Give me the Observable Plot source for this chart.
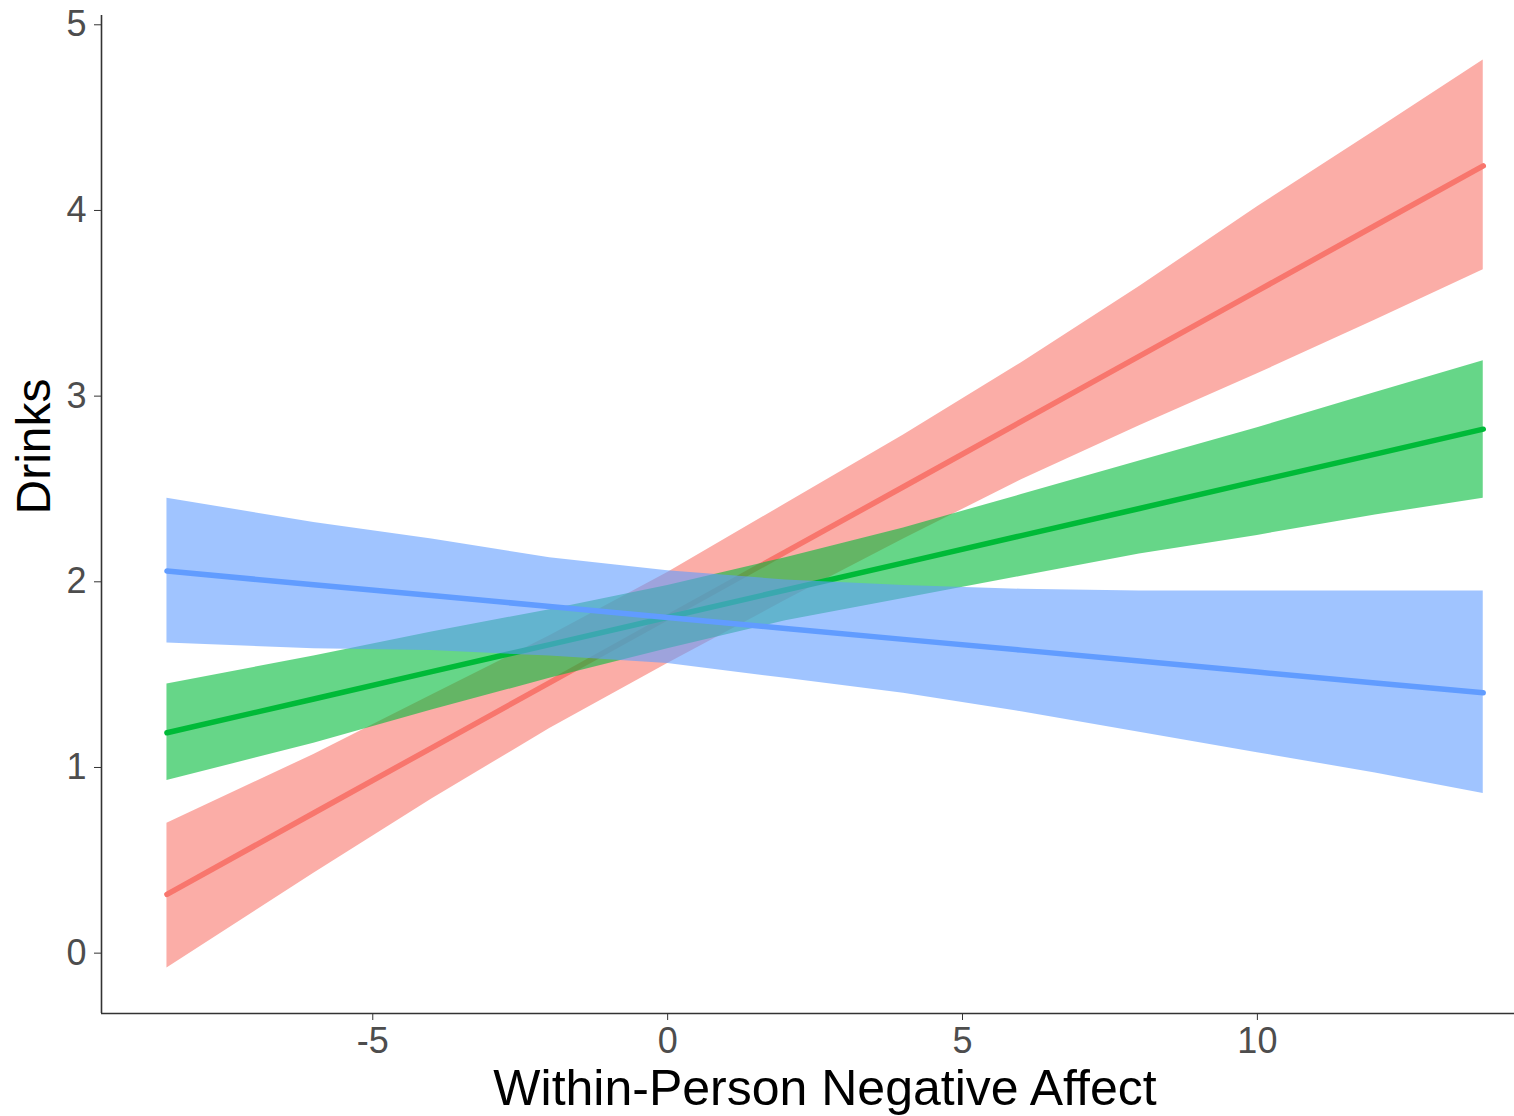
<!DOCTYPE html>
<html>
<head>
<meta charset="utf-8">
<script src="https://cdn.jsdelivr.net/npm/d3@7"></script>
<script src="https://cdn.jsdelivr.net/npm/@observablehq/plot@0.6"></script>
<style>
  html, body { margin: 0; padding: 0; background: #fff; }
  #chart svg { display: block; }
</style>
</head>
<body>
<div id="chart"></div>
<script>
// Within-person negative affect (x sample points)
const xs = [-8.49, -6, -4, -2, 0, 2, 4, 6, 8, 10, 12, 13.83];

// Group 1 (red)
const redFit   = [0.317, 0.755, 1.106, 1.457, 1.809, 2.161, 2.512, 2.864, 3.215, 3.567, 3.919, 4.240];
const redLower = [-0.08, 0.43, 0.83, 1.21, 1.56, 1.90, 2.23, 2.55, 2.84, 3.12, 3.41, 3.68];
const redUpper = [0.70, 1.07, 1.39, 1.71, 2.05, 2.42, 2.79, 3.18, 3.59, 4.02, 4.43, 4.81];

// Group 2 (green)
const greenFit   = [1.187, 1.369, 1.516, 1.662, 1.809, 1.956, 2.102, 2.249, 2.395, 2.542, 2.688, 2.822];
const greenLower = [0.93, 1.13, 1.31, 1.48, 1.64, 1.79, 1.91, 2.03, 2.15, 2.25, 2.36, 2.45];
const greenUpper = [1.45, 1.60, 1.73, 1.85, 1.98, 2.13, 2.29, 2.47, 2.65, 2.83, 3.02, 3.19];

// Group 3 (blue)
const blueFit   = [2.058, 1.984, 1.926, 1.867, 1.808, 1.749, 1.690, 1.632, 1.573, 1.514, 1.455, 1.402];
const blueLower = [1.67, 1.64, 1.63, 1.60, 1.56, 1.48, 1.40, 1.30, 1.19, 1.08, 0.97, 0.86];
const blueUpper = [2.45, 2.32, 2.23, 2.13, 2.06, 2.01, 1.98, 1.96, 1.95, 1.95, 1.95, 1.95];

const xTicks = [-5, 0, 5, 10];
const yTicks = [0, 1, 2, 3, 4, 5];
const xDomain = [-9.6, 14.36];
const yDomain = [-0.325, 5.05];
const xTitle = "Within-Person Negative Affect";
const yTitle = "Drinks";

const groups = [
  {fit: redFit, lower: redLower, upper: redUpper, color: "#F8766D"},
  {fit: greenFit, lower: greenLower, upper: greenUpper, color: "#00BA38"},
  {fit: blueFit, lower: blueLower, upper: blueUpper, color: "#619CFF"}
];

const marks = [];
for (const g of groups) {
  const rows = xs.map((x, i) => ({x, fit: g.fit[i], lower: g.lower[i], upper: g.upper[i]}));
  marks.push(Plot.areaY(rows, {x: "x", y1: "lower", y2: "upper", fill: g.color, fillOpacity: 0.6}));
  marks.push(Plot.line(rows, {x: "x", y: "fit", stroke: g.color, strokeWidth: 5.5}));
}

const font = "'Liberation Sans', Arial, Helvetica, sans-serif";
const fmt = d => String(d);

const chart = Plot.plot({
  width: 1514,
  height: 1116,
  marginLeft: 101,
  marginRight: 0,
  marginTop: 15,
  marginBottom: 103,
  style: {fontFamily: font, background: "#fff"},
  x: {domain: xDomain, label: null},
  y: {domain: yDomain, label: null},
  marks: [
    ...marks,
    Plot.ruleX([xDomain[0]], {stroke: "#333", strokeWidth: 1.6}),
    Plot.ruleY([yDomain[0]], {stroke: "#333", strokeWidth: 1.6}),
    Plot.axisX(xTicks, {tickSize: 7, tickPadding: 7, fontSize: 36, color: "#4d4d4d", label: null, tickFormat: fmt}),
    Plot.axisY(yTicks, {tickSize: 7, tickPadding: 8, fontSize: 36, color: "#4d4d4d", label: null, tickFormat: fmt}),
    Plot.text([xTitle], {frameAnchor: "bottom", dy: 75, dx: 17, fontSize: 50, fill: "#000", lineAnchor: "middle"}),
    Plot.text([yTitle], {frameAnchor: "left", dx: -67, rotate: -90, fontSize: 48, fill: "#000", lineAnchor: "middle"})
  ]
});

d3.select(chart).selectAll('[aria-label="x-axis tick"], [aria-label="y-axis tick"]').attr("stroke", "#333");
document.getElementById("chart").appendChild(chart);
</script>
</body>
</html>
